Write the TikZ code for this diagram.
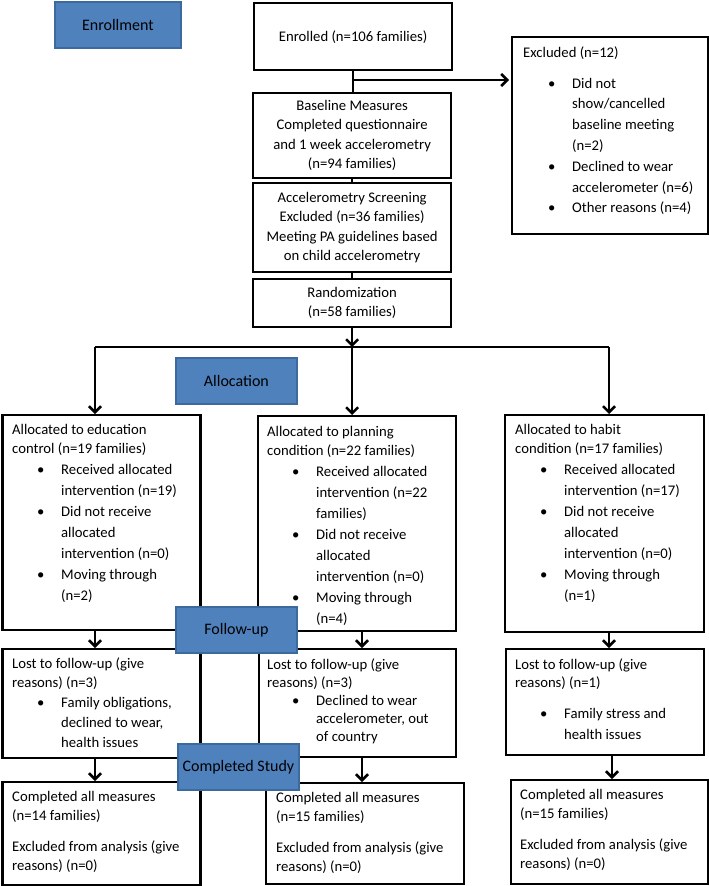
\documentclass[tikz,border=0pt]{standalone}
\usepackage{fontspec}
\setmainfont{Carlito}
\usetikzlibrary{arrows.meta}
\definecolor{bluefill}{HTML}{4F81BD}
\definecolor{blueline}{HTML}{3C6A9C}
\newcommand{\fl}{\rule{0pt}{12pt}}
\newcommand{\bul}{\makebox[49pt][l]{\hspace*{25pt}\textbullet}}
\newcommand{\ind}{\hspace*{49pt}}
\begin{document}
\begin{tikzpicture}[x=1pt,y=-1pt,
 box/.style={draw=black, line width=2.3pt, anchor=north west, inner sep=0pt, align=center, font=\fontsize{14.7}{19.5}\selectfont},
 stage/.style={draw=blueline, fill=bluefill, line width=1.8pt, anchor=north west, inner sep=0pt, font=\fontsize{16}{19}\selectfont},
 ltext/.style={anchor=north west, inner sep=0pt, align=left, font=\fontsize{14.7}{21}\selectfont},
 arr/.style={line width=2.5pt, -{Straight Barb[length=6pt,width=12pt]}},
 con/.style={line width=2.5pt}]
\useasboundingbox (0,0) rectangle (709,886);
% boxes
\node[box, minimum width=198pt, minimum height=67pt] (enrolled) at (253,2) {Enrolled (n=106 families)};
\node[box, minimum width=196pt, minimum height=197pt] (excluded) at (511,36) {};
\node[box, minimum width=198pt, minimum height=85pt] (baseline) at (252,92) {Baseline Measures\\Completed questionnaire\\and 1 week accelerometry\\(n=94 families)};
\node[box, minimum width=198pt, minimum height=89pt] (screen) at (252,182) {Accelerometry Screening\\Excluded (n=36 families)\\Meeting PA guidelines based\\on child accelerometry};
\node[box, minimum width=198pt, minimum height=48pt] (random) at (252,278) {Randomization\\(n=58 families)};
\node[box, minimum width=198pt, minimum height=215pt] (allocL) at (1.2,414) {};
\node[box, minimum width=198pt, minimum height=215pt] (allocM) at (257,415) {};
\node[box, minimum width=199pt, minimum height=217pt] (allocR) at (504,414) {};
\node[box, minimum width=198pt, minimum height=109pt] (lostL) at (1.2,648) {};
\node[box, minimum width=197pt, minimum height=108pt] (lostM) at (258,648) {};
\node[box, minimum width=198pt, minimum height=106pt] (lostR) at (505,648) {};
\node[box, minimum width=198pt, minimum height=103pt] (compL) at (1.2,781) {};
\node[box, minimum width=198pt, minimum height=101pt] (compM) at (265,782) {};
\node[box, minimum width=196.5pt, minimum height=104pt] (compR) at (510,779) {};
% texts
\node[ltext, font=\fontsize{14.7}{20.8}\selectfont] (exclT) at (523,45) {\fl Excluded (n=12)\\[10pt]\bul Did not\\\ind show/cancelled\\\ind baseline meeting\\\ind (n=2)\\\bul Declined to wear\\\ind accelerometer (n=6)\\\bul Other reasons (n=4)};
\node[ltext] (allocLT) at (12,422) {\fl Allocated to education\\[-2pt]control (n=19 families)\\\bul Received allocated\\\ind intervention (n=19)\\\bul Did not receive\\\ind allocated\\\ind intervention (n=0)\\\bul Moving through\\\ind (n=2)};
\node[ltext] (allocMT) at (267,424) {\fl Allocated to planning\\[-2pt]condition (n=22 families)\\\bul Received allocated\\\ind intervention (n=22\\\ind families)\\\bul Did not receive\\\ind allocated\\\ind intervention (n=0)\\\bul Moving through\\\ind (n=4)};
\node[ltext] (allocRT) at (515,422) {\fl Allocated to habit\\[-2pt]condition (n=17 families)\\\bul Received allocated\\\ind intervention (n=17)\\\bul Did not receive\\\ind allocated\\\ind intervention (n=0)\\\bul Moving through\\\ind (n=1)};
\node[ltext, font=\fontsize{14.7}{20}\selectfont] (lostLT) at (12,656) {\fl Lost to follow-up (give\\[-1pt]reasons) (n=3)\\\bul Family obligations,\\\ind declined to wear,\\\ind health issues};
\node[ltext, font=\fontsize{14.7}{18}\selectfont] (lostMT) at (267,657) {\fl Lost to follow-up (give\\reasons) (n=3)\\\bul Declined to wear\\\ind accelerometer, out\\\ind of country};
\node[ltext, font=\fontsize{14.7}{18}\selectfont] (lostRT) at (515,657) {\fl Lost to follow-up (give\\reasons) (n=1)\\[13pt]\bul Family stress and\\[3pt]\ind health issues};
\node[ltext, font=\fontsize{14.7}{19}\selectfont] (compLT) at (12,789) {\fl Completed all measures\\(n=14 families)\\[12pt]Excluded from analysis (give\\reasons) (n=0)};
\node[ltext, font=\fontsize{14.7}{19}\selectfont] (compMT) at (276,790) {\fl Completed all measures\\(n=15 families)\\[12pt]Excluded from analysis (give\\reasons) (n=0)};
\node[ltext, font=\fontsize{14.7}{19}\selectfont] (compRT) at (520,787) {\fl Completed all measures\\(n=15 families)\\[12pt]Excluded from analysis (give\\reasons) (n=0)};
% connectors
\coordinate (j1) at (352,80);
\coordinate (hl) at (95,347);
\coordinate (hr) at (609,347);
\coordinate (xM) at (362,0);
\coordinate (xR) at (612,0);
\draw[con] (enrolled.south) -- (enrolled.south |- baseline.north);
\draw[arr, shorten >=2pt] (enrolled.south |- j1) -- (j1 -| excluded.west);
\draw[con] (baseline.south) -- (screen.north);
\draw[con] (screen.south) -- (random.north);
\draw[arr] (random.south) -- (random.south |- hl);
\draw[con] (hl) -- (hr);
\draw[arr] (hl) -- (hl |- allocL.north);
\draw[arr] (random.south |- hl) -- (random.south |- allocM.north);
\draw[arr] (hr) -- (hr |- allocR.north);
\draw[arr] (hl |- allocL.south) -- (hl |- lostL.north);
\draw[arr] (xM |- allocM.south) -- (xM |- lostM.north);
\draw[arr] (hr |- allocR.south) -- (hr |- lostR.north);
\draw[arr] (hl |- lostL.south) -- (hl |- compL.north);
\draw[arr] (xM |- lostM.south) -- (xM |- compM.north);
\draw[arr] (xR |- lostR.south) -- (xR |- compR.north);
% stage labels
\node[stage, minimum width=126pt, minimum height=46pt] (enroll) at (54,1) {Enrollment};
\node[stage, minimum width=121pt, minimum height=46pt] (alloc) at (175,357) {Allocation};
\node[stage, minimum width=121pt, minimum height=46pt] (follow) at (175,606) {Follow-up};
\node[stage, minimum width=121pt, minimum height=46pt] (completed) at (177,743) {Completed Study};
\end{tikzpicture}
\end{document}
